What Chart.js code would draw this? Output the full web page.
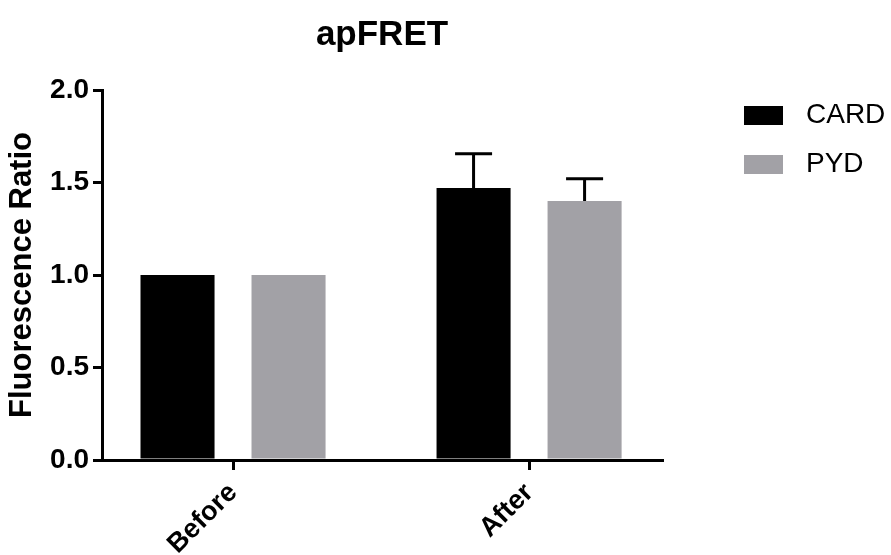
<!DOCTYPE html>
<html>
<head>
<meta charset="utf-8">
<script src="https://cdn.jsdelivr.net/npm/chart.js@4/dist/chart.umd.min.js"></script>
<style>
  html, body { margin: 0; padding: 0; background: #fff; }
  #wrap { width: 891px; height: 555px; }
</style>
</head>
<body>
<div id="wrap"><canvas id="chart" width="891" height="555"></canvas></div>
<script>
// data
const categories = ["Before", "After"];
const seriesNames = ["CARD", "PYD"];
const cardValues = [1.0, 1.47];
const pydValues = [1.0, 1.40];
const cardErrors = [0, 0.185];
const pydErrors = [0, 0.12];
const yTicks = [0, 0.5, 1.0, 1.5, 2.0];

const colors = ["#000000", "#a2a1a6"];
const errors = [cardErrors, pydErrors];
const FONT = "'Liberation Sans', Arial, Helvetica, sans-serif";

Chart.defaults.color = "#000";
Chart.defaults.font.family = FONT;

// error bars, upward only
const errorBars = {
  id: "errorBars",
  afterDatasetsDraw(chart) {
    const ctx = chart.ctx;
    const yScale = chart.scales.y;
    ctx.save();
    ctx.strokeStyle = "#000";
    ctx.lineWidth = 3;
    chart.data.datasets.forEach((ds, i) => {
      const meta = chart.getDatasetMeta(i);
      meta.data.forEach((bar, j) => {
        const err = errors[i][j];
        if (!err) return;
        const top = yScale.getPixelForValue(ds.data[j].y + err);
        const half = bar.width / 4;
        ctx.beginPath();
        ctx.moveTo(bar.x, bar.y);
        ctx.lineTo(bar.x, top);
        ctx.moveTo(bar.x - half, top);
        ctx.lineTo(bar.x + half, top);
        ctx.stroke();
      });
    });
    ctx.restore();
  }
};

// legend drawn by hand so the box / text gap matches
const sideLegend = {
  id: "sideLegend",
  afterDraw(chart) {
    const ctx = chart.ctx;
    ctx.save();
    ctx.font = "28px " + FONT;
    ctx.textBaseline = "middle";
    chart.data.datasets.forEach((ds, i) => {
      const top = 106 + i * 49;
      ctx.fillStyle = ds.backgroundColor;
      ctx.fillRect(744, top, 39, 19);
      ctx.fillStyle = "#000";
      ctx.fillText(ds.label, 806, top + 9);
    });
    ctx.restore();
  }
};

const datasets = [cardValues, pydValues].map((vals, i) => ({
  label: seriesNames[i],
  data: vals.map((v, j) => ({ x: j, y: v })),
  backgroundColor: colors[i],
  borderWidth: 0,
  categoryPercentage: 0.75,
  barPercentage: 0.667
}));

new Chart(document.getElementById("chart"), {
  type: "bar",
  data: { datasets },
  options: {
    responsive: false,
    animation: false,
    layout: { padding: { left: 0, right: 229, top: 0, bottom: 0 } },
    plugins: {
      legend: { display: false },
      tooltip: { enabled: false },
      title: {
        display: true,
        text: "apFRET",
        fullSize: false,
        font: { size: 35, weight: "bold" },
        padding: { top: 14, bottom: 34 }
      }
    },
    scales: {
      x: {
        type: "linear",
        offset: false,
        min: -0.4426,
        max: 1.449,
        afterBuildTicks: (scale) => {
          scale.ticks = categories.map((c, i) => ({ value: i }));
        },
        afterFit: (scale) => { scale.height = 95; },
        ticks: {
          callback: (v) => categories[v],
          font: { size: 27, weight: "bold" },
          minRotation: 45,
          maxRotation: 45,
          padding: 7,
          autoSkip: false
        },
        grid: {
          offset: false,
          drawOnChartArea: false,
          drawTicks: true,
          tickLength: 10,
          lineWidth: 3,
          color: "#000"
        },
        border: { display: true, width: 3, color: "#000" }
      },
      y: {
        min: 0,
        max: 2,
        afterBuildTicks: (scale) => {
          scale.ticks = yTicks.map((v) => ({ value: v }));
        },
        afterFit: (scale) => { scale.width = 102; },
        ticks: {
          callback: (v) => v.toFixed(1),
          font: { size: 28, weight: "bold" },
          padding: 4
        },
        grid: {
          drawOnChartArea: false,
          drawTicks: true,
          tickLength: 9,
          lineWidth: 3,
          color: "#000"
        },
        border: { display: true, width: 3, color: "#000" },
        title: {
          display: true,
          text: "Fluorescence Ratio",
          font: { size: 31, weight: "bold" },
          padding: { top: 4, bottom: 4 }
        }
      }
    }
  },
  plugins: [errorBars, sideLegend]
});
</script>
</body>
</html>
